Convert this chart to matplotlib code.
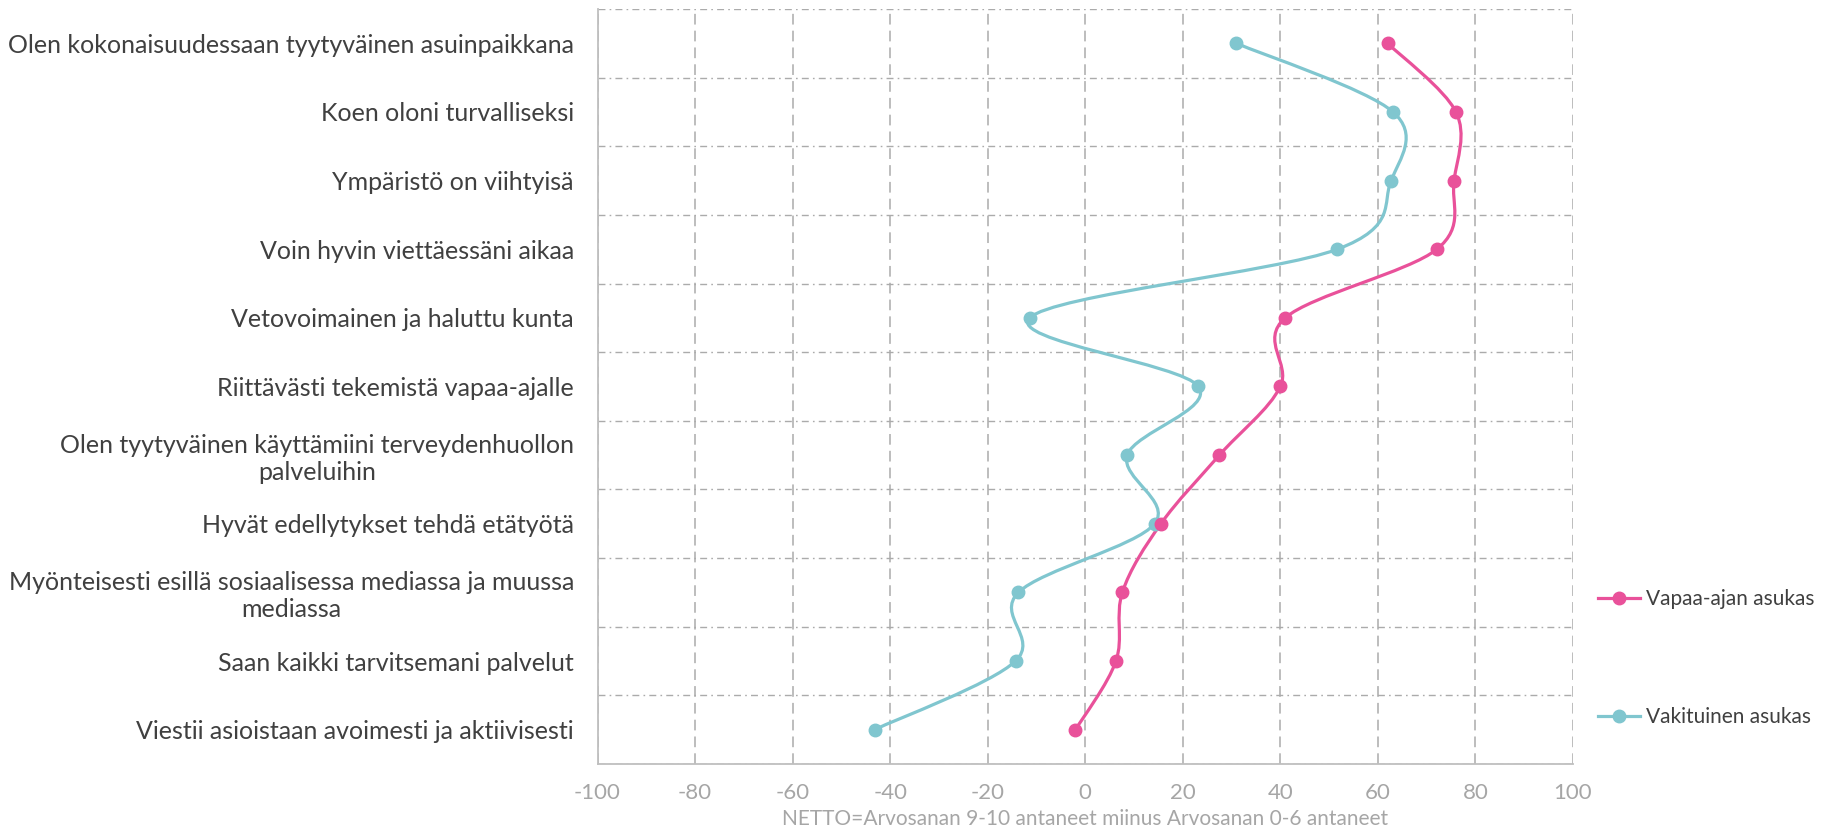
import numpy as np
import matplotlib
matplotlib.use("Agg")
import matplotlib.pyplot as plt
from matplotlib.path import Path
from matplotlib.patches import PathPatch
from matplotlib.lines import Line2D

plt.rcParams['font.family'] = ['Lato', 'DejaVu Sans']

# --- data ---
categories = [
    "Olen kokonaisuudessaan tyytyväinen asuinpaikkana",
    "Koen oloni turvalliseksi",
    "Ympäristö on viihtyisä",
    "Voin hyvin viettäessäni aikaa",
    "Vetovoimainen ja haluttu kunta",
    "Riittävästi tekemistä vapaa-ajalle",
    "Olen tyytyväinen käyttämiini terveydenhuollon\npalveluihin",
    "Hyvät edellytykset tehdä etätyötä",
    "Myönteisesti esillä sosiaalisessa mediassa ja muussa\nmediassa",
    "Saan kaikki tarvitsemani palvelut",
    "Viestii asioistaan avoimesti ja aktiivisesti",
]
vapaa_ajan = [62, 76, 75.6, 72.1, 41, 40, 27.5, 15.5, 7.6, 6.3, -2]
vakituinen = [31, 63.1, 62.7, 51.7, -11.4, 23.2, 8.6, 14.2, -13.7, -14.3, -43.2]
series_names = ["Vapaa-ajan asukas", "Vakituinen asukas"]
xticks = list(range(-100, 101, 20))

pink = "#e9519a"
teal = "#80c6cf"
grid_col = "#ababab"
text_col = "#404040"
tick_col = "#a6a6a6"

W, H, DPI = 1826, 831, 100
fig = plt.figure(figsize=(W / DPI, H / DPI), dpi=DPI)
ax = fig.add_axes([597.5 / W, 1 - 764 / H, (1573 - 597.5) / W, (764 - 9) / H])

ypos = np.arange(len(categories))
ax.set_xlim(-100, 100)
ax.set_ylim(len(categories) - 0.5, -0.5)


def smooth_path(xs, ys, kx, ky):
    # excel-like smoothed line: cubic bezier through points (catmull-rom style)
    P = np.column_stack([np.asarray(xs, float) * kx, np.asarray(ys, float) * ky])
    pad = np.vstack([P[0], P, P[-1]])
    verts = [P[0]]
    codes = [Path.MOVETO]
    for i in range(len(P) - 1):
        p0, p1, p2, p3 = pad[i], pad[i + 1], pad[i + 2], pad[i + 3]
        c1 = p1 + (p2 - p0) / 6.0
        c2 = p2 - (p3 - p1) / 6.0
        verts += [c1, c2, p2]
        codes += [Path.CURVE4] * 3
    V = np.array(verts) / [kx, ky]
    return Path(V, codes)


# pixel size of one data unit, so the smoothing works in screen space
kx = (1573 - 597.5) / 200.0
ky = (764 - 9) / float(len(categories))

for vals, col in [(vakituinen, teal), (vapaa_ajan, pink)]:
    ax.add_patch(PathPatch(smooth_path(vals, ypos, kx, ky), fill=False,
                           edgecolor=col, lw=2.3, capstyle='round', zorder=3))
    ax.plot(vals, ypos, linestyle='none', marker='o', ms=9, color=col, zorder=4)

# grid
ax.set_xticks(xticks)
ax.set_yticks(ypos)
ax.set_yticks(np.arange(-0.5, len(categories), 1.0), minor=True)
ax.grid(axis='x', which='major', color=grid_col, lw=1.1, linestyle=(0, (7, 4)))
ax.grid(axis='y', which='minor', color=grid_col, lw=1.0, linestyle=(0, (5, 3, 1.2, 3)))
ax.set_axisbelow(True)

for s in ['top', 'right']:
    ax.spines[s].set_visible(False)
for s in ['left', 'bottom']:
    ax.spines[s].set_color('#bfbfbf')
    ax.spines[s].set_linewidth(1.3)

ax.set_yticklabels(categories, fontsize=18, color=text_col)
for t in ax.get_yticklabels():
    t.set_multialignment('center')
ax.set_xticklabels([str(v) for v in xticks], fontsize=16, color=tick_col)
ax.tick_params(axis='y', which='both', length=0, pad=17)
ax.tick_params(axis='x', which='both', length=0, pad=14)
ax.set_xlabel("NETTO=Arvosanan 9-10 antaneet miinus Arvosanan 0-6 antaneet",
              fontsize=15, color=tick_col, labelpad=4)

handles = [Line2D([], [], color=pink, lw=2.3, marker='o', ms=9),
           Line2D([], [], color=teal, lw=2.3, marker='o', ms=9)]
fig.legend(handles, series_names, loc='center left',
           bbox_to_anchor=(1598 / W, 1 - 658 / H), frameon=False,
           fontsize=15, labelcolor=text_col, handlelength=2.0,
           handletextpad=0.3, labelspacing=4.7, borderpad=0, borderaxespad=0)

fig.savefig("out.png", dpi=DPI)
